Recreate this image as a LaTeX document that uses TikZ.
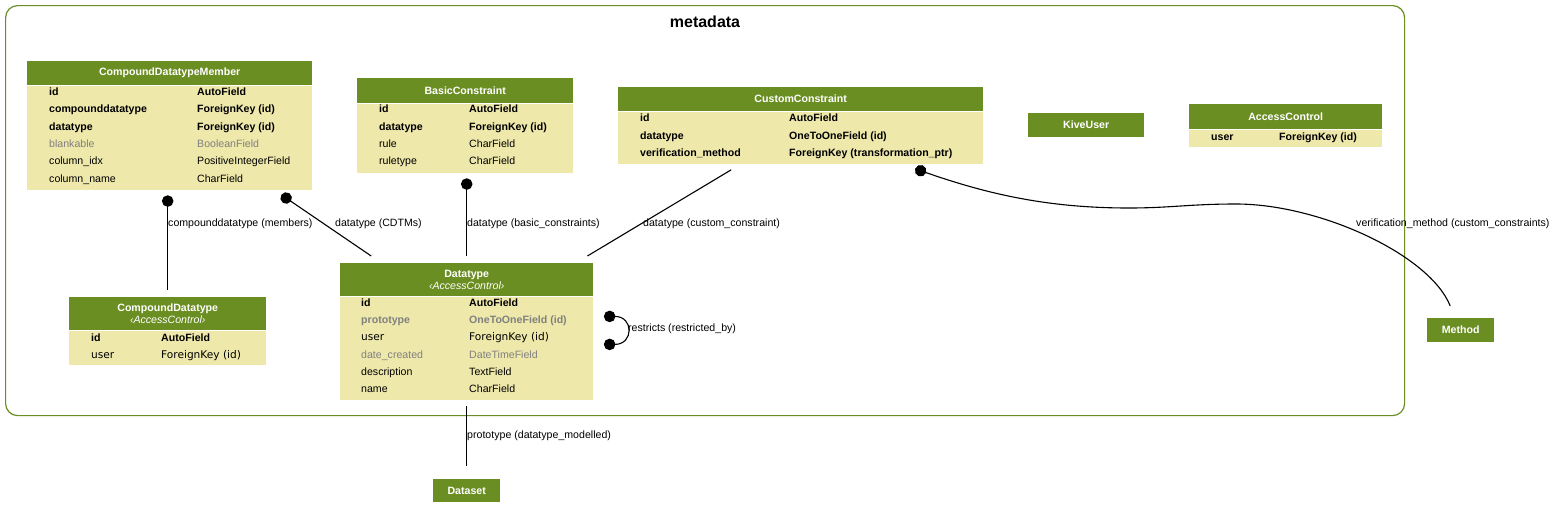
\documentclass[tikz,border=0pt]{standalone}
\usepackage{fontspec}
\setmainfont{Liberation Sans}
\newfontfamily\inhfont{DejaVu Sans}
\usepackage{tikz}
\usetikzlibrary{arrows.meta,positioning}
\definecolor{olivehead}{HTML}{6B8E23}
\definecolor{goldbody}{HTML}{EEE8AA}
\definecolor{fadetext}{HTML}{808080}
\newcommand{\fsz}{\fontsize{10.6}{12}\selectfont}

\begin{document}
\begin{tikzpicture}[x=1pt,y=-1pt,
  font=\fsz,
  hdr/.style={fill=olivehead,text=white,font=\fsz\bfseries,inner sep=0pt,
              anchor=north west,align=center},
  tbl/.style={fill=goldbody,inner sep=0pt},
  fld/.style={anchor=base west,yshift=-3.8pt,inner sep=0pt,font=\fsz},
  key/.style={fld,font=\fsz\bfseries},
  faded/.style={fld,text=fadetext},
  keyfaded/.style={key,text=fadetext},
  inh/.style={fld,font=\fsz\inhfont},
  cluster/.style={draw=olivehead,line width=1.2pt,rounded corners=12pt,
                  anchor=north west,inner sep=0pt},
  rel/.style={line width=1.1pt,draw=black},
  fk/.style={rel,-{Circle[length=11.5pt]}},
  fkboth/.style={rel,{Circle[length=11.5pt]}-{Circle[length=11.5pt]}},
  lbl/.style={anchor=west,inner sep=0pt,font=\fsz}]

\path[use as bounding box,fill=white] (0,0) rectangle (1556,520);

% app cluster
\node[cluster,minimum width=1399pt,minimum height=410pt] (meta) at (5,5) {};
\node[font=\fontsize{16}{18}\selectfont\bfseries] (metaname) at (705,22) {metadata};

% CompoundDatatypeMember
\node[hdr,minimum width=285pt,minimum height=24pt] (cdm) at (27,61) {CompoundDatatypeMember};
\node[tbl,minimum width=285pt,minimum height=104pt,below=0pt of cdm] (cdmb) {};
\foreach \y/\k/\v/\s [count=\i] in {91.5/id/AutoField/key,
    109/compounddatatype/ForeignKey (id)/key,
    126.5/datatype/ForeignKey (id)/key,
    144/blankable/BooleanField/faded,
    161/column\_idx/PositiveIntegerField/fld,
    178.5/column\_name/CharField/fld}
  {\node[\s] (cdmk\i) at (49,\y) {\k}; \node[\s] (cdmv\i) at (197,\y) {\v};}

% BasicConstraint
\node[hdr,minimum width=216pt,minimum height=25pt] (bc) at (357,78) {BasicConstraint};
\node[tbl,minimum width=216pt,minimum height=69pt,below=0pt of bc] (bcb) {};
\foreach \y/\k/\v/\s [count=\i] in {109/id/AutoField/key,
    126.5/datatype/ForeignKey (id)/key,
    144/rule/CharField/fld,
    161/ruletype/CharField/fld}
  {\node[\s] (bck\i) at (379,\y) {\k}; \node[\s] (bcv\i) at (469,\y) {\v};}

% CustomConstraint
\node[hdr,minimum width=365pt,minimum height=24pt] (cc) at (618,87) {CustomConstraint};
\node[tbl,minimum width=365pt,minimum height=52pt,below=0pt of cc] (ccb) {};
\foreach \y/\k/\v/\s [count=\i] in {118/id/AutoField/key,
    135.5/datatype/OneToOneField (id)/key,
    153/verification\_method/ForeignKey (transformation\_ptr)/key}
  {\node[\s] (cck\i) at (640,\y) {\k}; \node[\s] (ccv\i) at (789,\y) {\v};}

% KiveUser
\node[hdr,minimum width=116pt,minimum height=24pt] (ku) at (1028,113) {KiveUser};

% AccessControl
\node[hdr,minimum width=193pt,minimum height=25pt] (ac) at (1189,104) {AccessControl};
\node[tbl,minimum width=193pt,minimum height=17pt,below=0pt of ac] (acb) {};
\node[key] (ack1) at (1211,137) {user};
\node[key] (acv1) at (1279,137) {ForeignKey (id)};

% CompoundDatatype
\node[hdr,minimum width=197pt,minimum height=33pt] (cd) at (69,297)
  {CompoundDatatype\\{\mdseries\itshape ‹AccessControl›}};
\node[tbl,minimum width=197pt,minimum height=34pt,below=0pt of cd] (cdb) {};
\node[key] (cdk1) at (91,337.5) {id};
\node[key] (cdv1) at (161,337.5) {AutoField};
\node[inh] (cdk2) at (91,354.5) {user};
\node[inh] (cdv2) at (161,354.5) {ForeignKey (id)};

% Datatype
\node[hdr,minimum width=253pt,minimum height=33pt] (dt) at (340,263)
  {Datatype\\{\mdseries\itshape ‹AccessControl›}};
\node[tbl,minimum width=253pt,minimum height=103pt,below=0pt of dt] (dtb) {};
\foreach \y/\k/\v/\s [count=\i] in {302.5/id/AutoField/key,
    319.5/prototype/OneToOneField (id)/keyfaded,
    337/user/ForeignKey (id)/inh,
    354.5/date\_created/DateTimeField/faded,
    371.5/description/TextField/fld,
    389/name/CharField/fld}
  {\node[\s] (dtk\i) at (361,\y) {\k}; \node[\s] (dtv\i) at (469,\y) {\v};}

% models outside the app
\node[hdr,minimum width=67pt,minimum height=24pt] (mth) at (1427,318) {Method};
\node[hdr,minimum width=67pt,minimum height=23pt] (ds) at (433,479) {Dataset};

% relations
\draw[fk,shorten <=7pt,shorten >=5.5pt] (cd.north) -- (cd.north |- cdmb.south);
\draw[fk] ([xshift=-95.5pt,yshift=7pt]dt.north) -- ([xshift=-31pt,yshift=-5pt]cdmb.south east);
\draw[fk,shorten <=7pt,shorten >=5.5pt] (dt.north) -- (dt.north |- bcb.south);
\draw[rel] ([xshift=-6pt,yshift=7pt]dt.north east) -- ([xshift=-69.5pt,yshift=-6pt]ccb.south);
\draw[fk] ([xshift=-10.5pt,yshift=12pt]mth.north)
  .. controls (1430,255) and (1320,204) .. (1236,204)
  .. controls (1190,204) and (1170,208) .. (1129,208)
  .. controls (1050,208) and (990,195) .. ([xshift=114.5pt,yshift=-5pt]ccb.south);
\draw[fkboth] ([xshift=10.5pt,yshift=-20pt]dtb.north east)
  .. controls +(30,0) and +(30,0) .. ([xshift=10.5pt,yshift=-48pt]dtb.north east);
\draw[rel,shorten <=6pt,shorten >=13pt] (dtb.south) -- (ds.north);

\node[lbl] (lmembers) at (168,224) {compounddatatype (members)};
\node[lbl] (lcdtms) at (335,224) {datatype (CDTMs)};
\node[lbl] (lbasic) at (467,224) {datatype (basic\_constraints)};
\node[lbl] (lcustom) at (643,224) {datatype (custom\_constraint)};
\node[lbl] (lverif) at (1356,224) {verification\_method (custom\_constraints)};
\node[lbl] (lrestr) at (628,329) {restricts (restricted\_by)};
\node[lbl] (lproto) at (467,436) {prototype (datatype\_modelled)};
\end{tikzpicture}
\end{document}
